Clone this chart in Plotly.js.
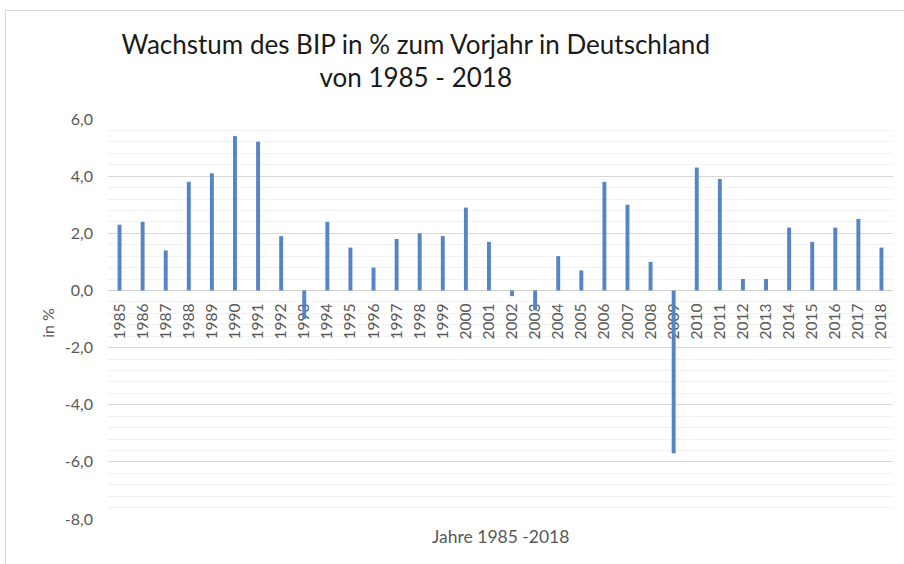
<!DOCTYPE html>
<html>
<head>
<meta charset="utf-8">
<script src="https://cdn.plot.ly/plotly-3.0.1.min.js"></script>
<style>
  html, body { margin: 0; padding: 0; background: #fff; }
  #wrap { position: relative; width: 904px; height: 564px; overflow: hidden; }
  #frame { position: absolute; left: 5px; top: 10px; width: 920px; height: 600px; border: 1px solid #d9d9d9; box-sizing: border-box; pointer-events: none; }
  #chart { position: absolute; left: 0; top: 0; width: 904px; height: 564px; }
</style>
</head>
<body>
<div id="wrap">
  <div id="chart"></div>
  <div id="frame"></div>
</div>
<script>
const years = ['1985','1986','1987','1988','1989','1990','1991','1992','1993','1994',
  '1995','1996','1997','1998','1999','2000','2001','2002','2003','2004',
  '2005','2006','2007','2008','2009','2010','2011','2012','2013','2014',
  '2015','2016','2017','2018'];
const growth = [2.3, 2.4, 1.4, 3.8, 4.1, 5.4, 5.2, 1.9, -1.0, 2.4,
  1.5, 0.8, 1.8, 2.0, 1.9, 2.9, 1.7, -0.2, -0.7, 1.2,
  0.7, 3.8, 3.0, 1.0, -5.7, 4.3, 3.9, 0.4, 0.4, 2.2,
  1.7, 2.2, 2.5, 1.5];
const yRange = [-8, 6];
const yTickVals = [-8, -6, -4, -2, 0, 2, 4, 6];
const yTickLabels = ['-8,0', '-6,0', '-4,0', '-2,0', '0,0', '2,0', '4,0', '6,0'];
const chartTitle = 'Wachstum des BIP in % zum Vorjahr in Deutschland<br>von 1985 - 2018';
const xTitle = 'Jahre 1985 -2018';
const yTitle = 'in %';

const fontFam = 'Lato, "Open Sans", sans-serif';
const grey = '#595959';

const trace = {
  type: 'bar',
  x: years,
  y: growth,
  marker: { color: '#5585c5' },
  hoverinfo: 'x+y'
};

const layout = {
  width: 904,
  height: 564,
  margin: { l: 108, r: 11, t: 119, b: 45 },
  paper_bgcolor: '#fff',
  plot_bgcolor: '#fff',
  showlegend: false,
  bargap: 0.83,
  separators: ',.',
  title: {
    text: chartTitle,
    x: 0.392, xanchor: 'center', xref: 'paper',
    y: 0.905, yanchor: 'top',
    font: { family: fontFam, size: 26, color: '#1a1a1a' }
  },
  xaxis: {
    type: 'category',
    anchor: 'free',
    position: (0 - yRange[0]) / (yRange[1] - yRange[0]),
    showgrid: false,
    showline: false,
    zeroline: false,
    ticks: 'outside',
    ticklen: 6,
    tickcolor: 'rgba(0,0,0,0)',
    tickangle: -90,
    layer: 'below traces',
    tickfont: { family: fontFam, size: 15.5, color: grey },
    fixedrange: true
  },
  yaxis: {
    range: yRange,
    tickmode: 'array',
    tickvals: yTickVals,
    ticktext: yTickLabels,
    showgrid: true,
    gridcolor: '#d9d9d9',
    gridwidth: 1,
    zeroline: true,
    zerolinecolor: '#d0d0d0',
    zerolinewidth: 1,
    showline: false,
    ticks: '',
    ticklabelstandoff: 14,
    layer: 'below traces',
    tickfont: { family: fontFam, size: 16, color: grey },
    minor: { dtick: 0.4, tick0: 0, showgrid: true, gridcolor: '#f2f2f2', gridwidth: 1, ticks: '' },
    fixedrange: true
  },
  annotations: [
    {
      text: xTitle, xref: 'paper', yref: 'paper',
      x: 0.5, y: -0.0425, xanchor: 'center', yanchor: 'middle',
      showarrow: false,
      font: { family: fontFam, size: 17.5, color: grey }
    },
    {
      text: yTitle, xref: 'paper', yref: 'paper',
      x: -0.078, y: 0.49, xanchor: 'center', yanchor: 'middle',
      textangle: -90, showarrow: false,
      font: { family: fontFam, size: 16, color: grey }
    }
  ]
};

Plotly.newPlot('chart', [trace], layout, { displayModeBar: false, staticPlot: true });
</script>
</body>
</html>
